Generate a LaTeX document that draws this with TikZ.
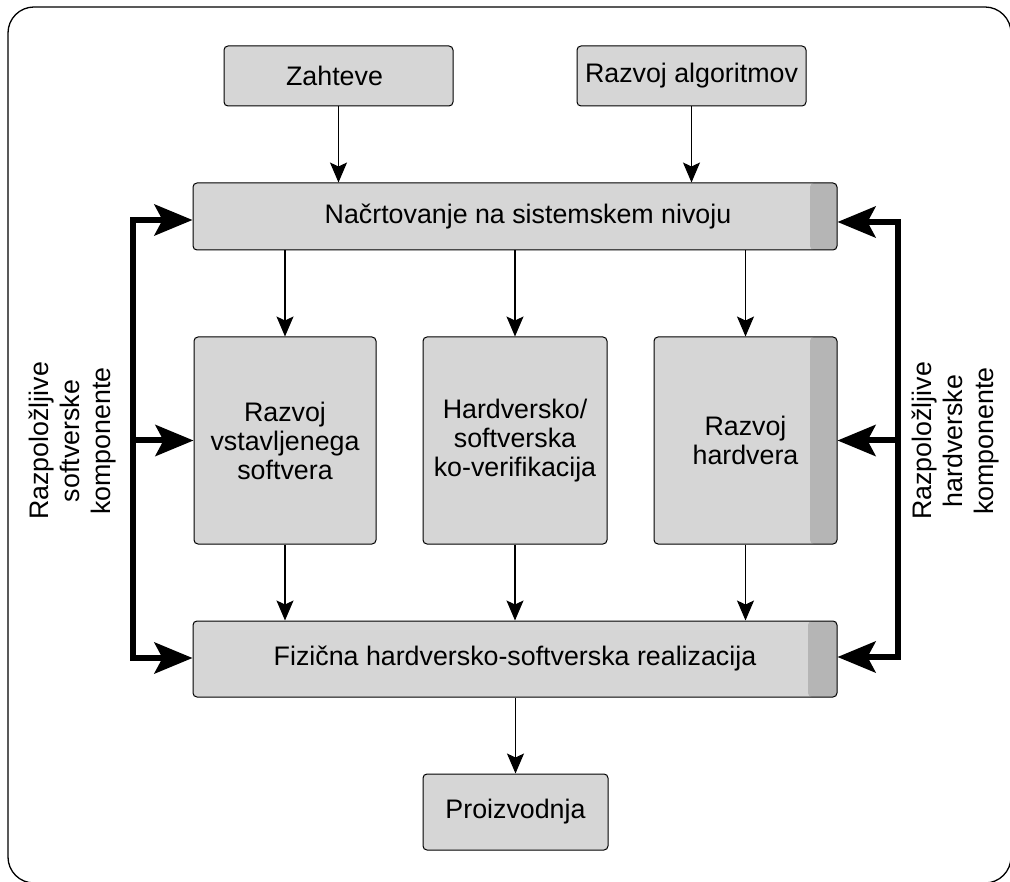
\documentclass[tikz,border=0pt]{standalone}
\usepackage{fontspec}
\setmainfont{Liberation Sans}
\usetikzlibrary{arrows.meta}
\begin{document}
\begin{tikzpicture}[x=1pt,y=-1pt,
  box/.style={draw=black, line width=1pt, rounded corners=4pt, fill=gray!32,
    inner sep=0pt, align=center, font=\fontsize{26.8}{29}\selectfont},
  band/.style={path picture={
    \fill[gray!58] ([xshift=-#1]path picture bounding box.north east)
      rectangle (path picture bounding box.south east);}},
  boxtext/.style={inner sep=0pt, align=center, font=\fontsize{26.8}{29}\selectfont},
  flow/.style={draw=black, line width=1.1pt,
    -{Stealth[length=20pt,width=17pt,inset=4pt]}},
  bus/.style={draw=black, line width=6pt, line join=miter,
    -{Stealth[length=38pt,width=31pt,inset=8pt]}},
  side/.style={rotate=90, align=center, inner sep=0pt,
    font=\fontsize{26.8}{31}\selectfont}]

\useasboundingbox (0,0) rectangle (1010,882);
% outer frame
\draw[line width=1.3pt, rounded corners=26pt] (8,7) rectangle (1011,883);

% inputs
\node[box, minimum width=229pt, minimum height=60pt] (zah) at (338.5,76) {};
\node[boxtext] (zahtext) at ([xshift=-4pt]zah.center) {Zahteve};
\node[box, minimum width=229pt, minimum height=60pt] (alg) at (691.5,76) {Razvoj algoritmov};

% system level design
\node[box, band=27pt, minimum width=644pt, minimum height=67pt] (nac) at (515,216.5) {};
\node[boxtext] (nactext) at ([xshift=13pt]nac.center) {Načrtovanje na sistemskem nivoju};

% parallel development
\node[box, minimum width=182pt, minimum height=207pt] (sw) at (285,440.5)
  {Razvoj\\vstavljenega\\softvera};
\node[box, minimum width=184pt, minimum height=207pt] (cov) at (515,440.5)
  {Hardversko/\\softverska\\ko-verifikacija};
\node[box, band=27pt, minimum width=183pt, minimum height=207pt] (hw) at (745.5,440.5)
  {Razvoj\\hardvera};

% realization and production
\node[box, band=29pt, minimum width=644pt, minimum height=76pt] (fiz) at (515,659)
  {Fizična hardversko-softverska realizacija};
\node[box, minimum width=185pt, minimum height=76pt] (pro) at (515.5,812) {Proizvodnja};

% thin flow arrows
\draw[flow] (zah) -- (zah |- nac.north);
\draw[flow] (alg) -- (alg |- nac.north);
\draw[flow] (nac.south -| sw) -- (sw.north);
\draw[flow] (nac.south -| cov) -- (cov.north);
\draw[flow] (nac.south -| hw) -- (hw.north);
\draw[flow] (sw.south) -- (sw.south |- fiz.north);
\draw[flow] (cov.south) -- (cov.south |- fiz.north);
\draw[flow] (hw.south) -- (hw.south |- fiz.north);
\draw[flow] (fiz.south -| pro) -- (pro.north);

% software component bus (left)
\coordinate (lt) at (133,220);
\coordinate (lb) at (133,658);
\draw[bus] (lb) -- (lt) -- (lt -| nac.west);
\draw[bus] (lt) -- (lb) -- (lb -| fiz.west);
\draw[bus] (lt |- sw.west) -- (sw.west);

% hardware component bus (right)
\coordinate (rt) at (898,222);
\coordinate (rb) at (898,657);
\draw[bus] (rb) -- (rt) -- (rt -| nac.east);
\draw[bus] (rt) -- (rb) -- (rb -| fiz.east);
\draw[bus] (rt |- hw.east) -- (hw.east);

% bus labels
\node[side] (lsw) at (73,441) {Razpoložljive\\softverske\\komponente};
\node[side] (lhw) at (956,441) {Razpoložljive\\hardverske\\komponente};
\end{tikzpicture}
\end{document}
